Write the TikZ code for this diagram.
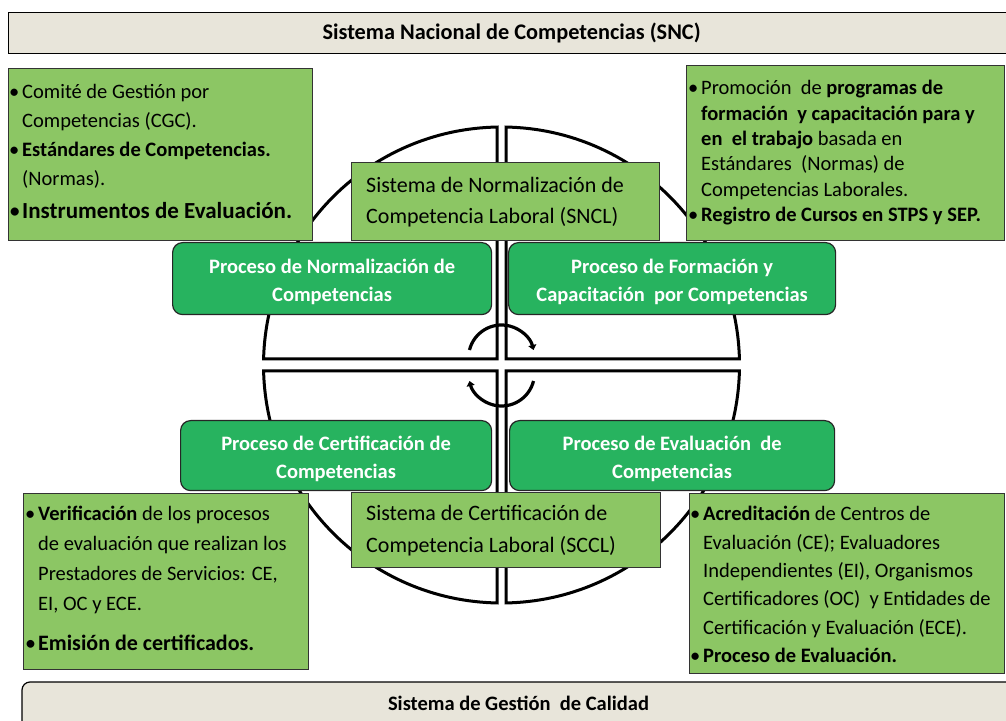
\documentclass[tikz,border=0pt]{standalone}
\usepackage{fontspec}
\setmainfont{Carlito}
\usetikzlibrary{arrows.meta}
\definecolor{lgreen}{HTML}{8CC664}
\definecolor{dgreen}{HTML}{27B35F}
\definecolor{beige}{HTML}{E8E5DA}
\newcommand\mybul{\makebox[13pt][l]{\textbullet}}
\newcommand\myind{\hspace*{13pt}}
\newcommand\highstart{\rule{0pt}{21pt}}
\begin{document}
\begin{tikzpicture}[x=1pt,y=1pt,
  ring/.style={line width=3pt, draw=black, line join=miter},
  infobox/.style={draw=black!80, line width=1.2pt, fill=lgreen, inner sep=0pt, anchor=north west},
  procbox/.style={draw=black!85, line width=1.2pt, fill=dgreen, rounded corners=10pt, text=white,
    font=\bfseries\fontsize{20.5}{28.5}\selectfont, align=center, inner sep=0pt, anchor=north west},
  txt/.style={inner sep=0pt, anchor=north west, align=left},
  banner/.style={draw=black, line width=1.2pt, fill=beige, inner sep=0pt},
  cycarrow/.style={line width=3.2pt, -{Triangle[length=5pt,width=8pt]}}
]
\useasboundingbox (0,0) rectangle (1006,720);
\fill[white] (0,0) rectangle (1006,720);

% banners
\node[banner, anchor=north west, minimum width=1006pt, minimum height=41pt,
  font=\bfseries\fontsize{22.3}{24}\selectfont] (snc) at (8,708) {Sistema Nacional de Competencias (SNC)};
\draw[banner, rounded corners=8pt] (22,-12) -- (22,38) -- (1016,38) -- (1016,-12) -- cycle;
\node[inner sep=0pt, font=\bfseries\fontsize{20.5}{24}\selectfont] (sgc) at (518.5,17) {Sistema de Gestión\ \ de Calidad};

% ring quadrants
\draw[ring] (497,361) -- (263.58,361) arc[start angle=178.555, end angle=91.083, radius=238pt] -- cycle;
\draw[ring] (506,361) -- (739.42,361) arc[start angle=1.445, end angle=88.917, radius=238pt] -- cycle;
\draw[ring] (497,349) -- (263.58,349) arc[start angle=181.445, end angle=268.917, radius=238pt] -- cycle;
\draw[ring] (506,349) -- (739.42,349) arc[start angle=-1.445, end angle=-88.917, radius=238pt] -- cycle;

% cycle arrows
\draw[cycarrow] (469.48,369.98) arc[start angle=166, end angle=14, radius=33pt];
\draw[cycarrow] (533.52,339.02) arc[start angle=-14, end angle=-166, radius=33pt];

% system boxes
\node[infobox, minimum width=308pt, minimum height=78pt] (sncl) at (351,558) {};
\node[txt, font=\fontsize{22}{31}\selectfont] (sncltxt) at (366,549.4)
  {\strut Sistema de Normalización de\\Competencia Laboral (SNCL)};
\node[infobox, minimum width=309pt, minimum height=75pt] (sccl) at (351,228) {};
\node[txt, font=\fontsize{22}{32}\selectfont] (sccltxt) at (366,222.1)
  {\strut Sistema de Certificación de\\Competencia Laboral (SCCL)};

% info boxes
\node[infobox, minimum width=304pt, minimum height=172pt] (cgc) at (8,652) {};
\node[txt, font=\fontsize{20.5}{29}\selectfont] (cgctxt) at (9,641.8)
  {\strut\mybul Comité de Gestión por\\
   \myind Competencias (CGC).\\
   \mybul\textbf{Estándares de Competencias.}\\
   \myind(Normas).\\[3.7pt]
   {\fontsize{23}{29}\selectfont\mybul\textbf{Instrumentos de Evaluación.}}};

\node[infobox, minimum width=318pt, minimum height=175pt] (form) at (686,655) {};
\node[txt, font=\fontsize{20.5}{25.4}\selectfont] (formtxt) at (688,643.2)
  {\strut\mybul Promoción\ \ de \textbf{programas de}\\
   \myind\textbf{formación\ \ y capacitación para y}\\
   \myind\textbf{en\ \ el trabajo} basada en\\
   \myind Estándares\ \ (Normas) de\\
   \myind Competencias Laborales.\\
   \mybul\textbf{Registro de Cursos en STPS y SEP.}};

\node[infobox, minimum width=285pt, minimum height=176pt] (verif) at (23,227) {};
\node[txt, font=\fontsize{20.5}{30}\selectfont] (veriftxt) at (25,221)
  {\strut\mybul\textbf{Verificación} de los procesos\\
   \myind de evaluación que realizan los\\
   \myind Prestadores de Servicios: CE,\\
   \myind EI, OC y ECE.\\[10.3pt]
   {\fontsize{22}{30}\selectfont\mybul\textbf{Emisión de certificados.}}};

\node[infobox, minimum width=315pt, minimum height=180pt] (acred) at (689,227) {};
\node[txt, font=\fontsize{20.5}{28.4}\selectfont] (acredtxt) at (690,219.4)
  {\strut\mybul\textbf{Acreditación} de Centros de\\
   \myind Evaluación (CE); Evaluadores\\
   \myind Independientes (EI), Organismos\\
   \myind Certificadores (OC)\ \ y Entidades de\\
   \myind Certificación y Evaluación (ECE).\\
   \mybul\textbf{Proceso de Evaluación.}};

% process boxes
\node[procbox, minimum width=319pt, minimum height=72pt] (pn) at (172,478)
  {\highstart Proceso de Normalización de\\Competencias};
\node[procbox, minimum width=327pt, minimum height=72pt] (pf) at (508,478)
  {\highstart Proceso de Formación y\\Capacitación\ \ por Competencias};
\node[procbox, minimum width=311pt, minimum height=70pt] (pc) at (180,300)
  {\highstart Proceso de Certificación de\\Competencias};
\node[procbox, minimum width=325pt, minimum height=70pt] (pe) at (509,300)
  {\highstart Proceso de Evaluación\ \ de\\Competencias};
\end{tikzpicture}
\end{document}
